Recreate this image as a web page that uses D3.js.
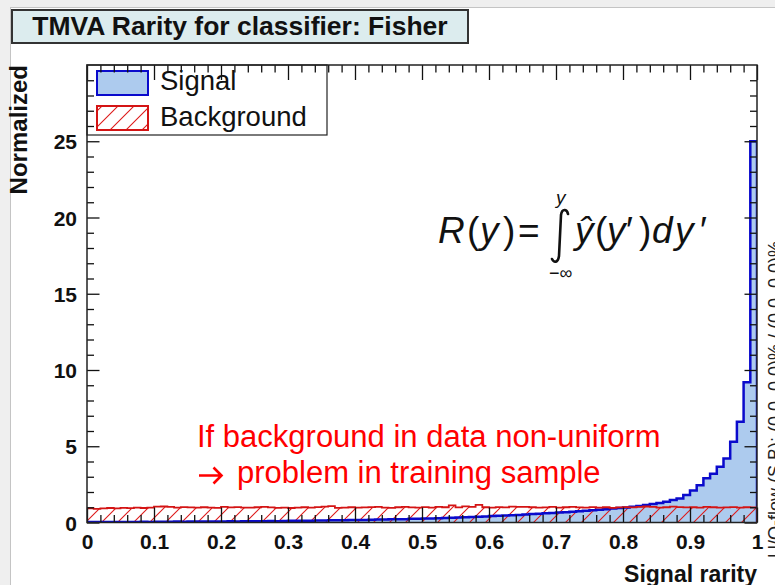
<!DOCTYPE html>
<html>
<head>
<meta charset="utf-8">
<script src="https://cdn.jsdelivr.net/npm/d3@7"></script>
<style>
  html, body { margin: 0; padding: 0; background: #efefef; }
  svg { display: block; }
  text { font-family: "Liberation Sans", Arial, Helvetica, sans-serif; }
</style>
</head>
<body>
<svg id="chart" width="775" height="585"></svg>
<script>
// Rarity distribution of the Fisher classifier output, 100 bins on [0, 1]
const binCount = 100;

const signalValues = [
  0.03, 0.03, 0.03, 0.04, 0.03, 0.04, 0.04, 0.04, 0.05, 0.04,
  0.05, 0.05, 0.05, 0.06, 0.05, 0.06, 0.06, 0.07, 0.06, 0.07,
  0.07, 0.08, 0.07, 0.08, 0.08, 0.09, 0.09, 0.10, 0.09, 0.10,
  0.11, 0.11, 0.12, 0.12, 0.13, 0.13, 0.14, 0.15, 0.15, 0.16,
  0.17, 0.17, 0.18, 0.19, 0.20, 0.21, 0.21, 0.22, 0.24, 0.25,
  0.26, 0.27, 0.28, 0.30, 0.31, 0.33, 0.35, 0.36, 0.38, 0.40,
  0.42, 0.44, 0.46, 0.48, 0.50, 0.52, 0.55, 0.57, 0.60, 0.62,
  0.65, 0.68, 0.71, 0.74, 0.77, 0.80, 0.84, 0.87, 0.91, 0.95,
  0.99, 1.03, 1.08, 1.14, 1.22, 1.28, 1.36, 1.47, 1.58, 1.80,
  2.10, 2.45, 2.90, 3.20, 3.65, 4.20, 5.30, 6.60, 9.20, 25.0
];

const backgroundValues = [
  0.92, 0.90, 0.93, 0.95, 0.92, 0.96, 0.94, 0.97, 0.95, 0.98,
  1.04, 1.05, 1.03, 0.97, 1.01, 0.99, 0.97, 1.00, 0.98, 0.96,
  1.02, 0.99, 1.01, 0.98, 0.97, 1.00, 1.03, 0.99, 0.96, 0.98,
  0.95, 0.97, 1.00, 0.98, 1.01, 1.04, 1.08, 0.96, 0.98, 1.00,
  0.97, 0.99, 1.01, 1.02, 0.98, 0.96, 1.00, 1.02, 0.99, 0.97,
  1.01, 0.98, 1.03, 1.00, 1.12, 0.99, 1.06, 1.02, 1.15, 1.00,
  0.97, 1.01, 0.99, 1.04, 1.03, 1.03, 1.00, 0.97, 0.99, 1.02,
  0.98, 1.00, 1.03, 0.99, 0.97, 1.01, 0.98, 1.00, 0.96, 0.99,
  1.01, 0.99, 1.03, 1.05, 1.02, 0.98, 1.00, 1.04, 1.01, 0.99,
  1.00, 0.98, 1.02, 1.00, 0.97, 0.99, 1.01, 0.98, 1.00, 0.99
];

const xMajorTicks = [0, 0.1, 0.2, 0.3, 0.4, 0.5, 0.6, 0.7, 0.8, 0.9, 1];
const xTickLabels = ["0", "0.1", "0.2", "0.3", "0.4", "0.5", "0.6", "0.7", "0.8", "0.9", "1"];
const yMajorTicks = [0, 5, 10, 15, 20, 25];
const yTickLabels = ["0", "5", "10", "15", "20", "25"];

const seriesNames = ["Signal", "Background"];
const titleText = "TMVA Rarity for classifier: Fisher";
const xTitle = "Signal rarity";
const yTitle = "Normalized";
const flowText = "U/O-flow (S,B): (0.0, 0.0)% / (0.0, 0.0)%";
const noteLines = ["If background in data non-uniform", "problem in training sample"];

// Colours
const signalFill = "#adcbee";
const signalLine = "#0a0acc";
const bkgLine = "#d41414";
const noteRed = "#ff0000";

// Frame geometry
const frame = { left: 87, right: 757, top: 65, bottom: 522.5 };
const yMax = 30;

const svg = d3.select("#chart");

const x = d3.scaleLinear().domain([0, 1]).range([frame.left, frame.right]);
const y = d3.scaleLinear().domain([0, yMax]).range([frame.bottom, frame.top]);

// hatch pattern for the background histogram
const defs = svg.append("defs");
const hatch = defs.append("pattern")
  .attr("id", "hatch")
  .attr("patternUnits", "userSpaceOnUse")
  .attr("width", 16).attr("height", 16);
hatch.append("path")
  .attr("d", "M0,16 L16,0 M-4,4 L4,-4 M12,20 L20,12")
  .attr("stroke", "#dd1a1a").attr("stroke-width", 1.1).attr("fill", "none");

defs.append("clipPath").attr("id", "frameClip")
  .append("rect")
  .attr("x", frame.left).attr("y", frame.top)
  .attr("width", frame.right - frame.left).attr("height", frame.bottom - frame.top);

// canvas pad
svg.append("rect").attr("x", 0).attr("y", 0).attr("width", 775).attr("height", 585).attr("fill", "#efefef");
svg.append("rect").attr("x", 10.5).attr("y", 7.5).attr("width", 775).attr("height", 590)
  .attr("fill", "#ffffff").attr("stroke", "#c4c4c4").attr("stroke-width", 1);

// title box
svg.append("rect").attr("x", 12).attr("y", 10).attr("width", 456).attr("height", 33)
  .attr("fill", "#dcecee").attr("stroke", "#333").attr("stroke-width", 2);
svg.append("text").attr("x", 240).attr("y", 35).attr("text-anchor", "middle")
  .attr("font-size", 26.5).attr("font-weight", "bold").attr("fill", "#111")
  .text(titleText);

// histogram step outlines
function stepPoints(values) {
  const pts = [[0, 0]];
  values.forEach((v, i) => pts.push([i / binCount, v]));
  pts.push([1, values[values.length - 1]]);
  pts.push([1, 0]);
  return pts;
}

const area = d3.area()
  .x(d => x(d[0])).y0(y(0)).y1(d => y(d[1]))
  .curve(d3.curveStepAfter);
const line = d3.line()
  .x(d => x(d[0])).y(d => y(d[1]))
  .curve(d3.curveStepAfter);

const plot = svg.append("g").attr("clip-path", "url(#frameClip)");

const sigPts = stepPoints(signalValues);
const bkgPts = stepPoints(backgroundValues);

plot.append("path").attr("d", area(sigPts)).attr("fill", signalFill);
plot.append("path").attr("d", area(bkgPts)).attr("fill", "url(#hatch)");
plot.append("path").attr("d", line(sigPts)).attr("fill", "none")
  .attr("stroke", signalLine).attr("stroke-width", 2.5).attr("stroke-linejoin", "miter");
plot.append("path").attr("d", line(bkgPts)).attr("fill", "none")
  .attr("stroke", bkgLine).attr("stroke-width", 1.8);

// legend
const legend = svg.append("g");
legend.append("rect").attr("x", frame.left).attr("y", frame.top).attr("width", 240).attr("height", 70)
  .attr("fill", "#fff").attr("stroke", "#222").attr("stroke-width", 1.2);
legend.append("rect").attr("x", 97).attr("y", 71).attr("width", 51).attr("height", 24)
  .attr("fill", signalFill).attr("stroke", signalLine).attr("stroke-width", 2);
legend.append("rect").attr("x", 97).attr("y", 106).attr("width", 51).attr("height", 24)
  .attr("fill", "#fff");
legend.append("rect").attr("x", 97).attr("y", 106).attr("width", 51).attr("height", 24)
  .attr("fill", "url(#hatch)").attr("stroke", bkgLine).attr("stroke-width", 2);
legend.selectAll("text.leg").data(seriesNames).join("text")
  .attr("class", "leg")
  .attr("x", 160).attr("y", (d, i) => 90 + i * 36)
  .attr("font-size", 27.5).attr("fill", "#111")
  .text(d => d);

// axes: major and minor ticks on all four sides
const xMinor = d3.range(0, 1.0001, 0.02).filter(v => Math.abs(v * 10 - Math.round(v * 10)) > 1e-6);
const yMinor = d3.range(0, yMax + 0.001, 1).filter(v => v % 5 !== 0);

function styleAxis(g) {
  g.select(".domain").remove();
  g.selectAll(".tick line").attr("stroke", "#111").attr("stroke-width", 1.3);
}

svg.append("g").attr("transform", `translate(0,${frame.bottom})`)
  .call(d3.axisBottom(x).tickValues(xMajorTicks).tickSize(-15)
    .tickFormat((d, i) => xTickLabels[i]))
  .call(styleAxis)
  .call(g => g.selectAll("text").attr("font-size", 21).attr("font-weight", "bold")
    .attr("fill", "#111").attr("font-family", "Liberation Sans, Arial, sans-serif")
    .attr("y", 26.5).attr("dy", 0));
svg.append("g").attr("transform", `translate(0,${frame.bottom})`)
  .call(d3.axisBottom(x).tickValues(xMinor).tickSize(-7.5).tickFormat(""))
  .call(styleAxis);
svg.append("g").attr("transform", `translate(0,${frame.top})`)
  .call(d3.axisTop(x).tickValues(xMajorTicks).tickSize(-15).tickFormat(""))
  .call(styleAxis);
svg.append("g").attr("transform", `translate(0,${frame.top})`)
  .call(d3.axisTop(x).tickValues(xMinor).tickSize(-7.5).tickFormat(""))
  .call(styleAxis);

svg.append("g").attr("transform", `translate(${frame.left},0)`)
  .call(d3.axisLeft(y).tickValues(yMajorTicks).tickSize(-12.5)
    .tickFormat((d, i) => yTickLabels[i]))
  .call(styleAxis)
  .call(g => g.selectAll("text").attr("font-size", 21).attr("font-weight", "bold")
    .attr("fill", "#111").attr("font-family", "Liberation Sans, Arial, sans-serif")
    .attr("x", -10).attr("dy", "0.36em"));
svg.append("g").attr("transform", `translate(${frame.left},0)`)
  .call(d3.axisLeft(y).tickValues(yMinor).tickSize(-7).tickFormat(""))
  .call(styleAxis);
svg.append("g").attr("transform", `translate(${frame.right},0)`)
  .call(d3.axisRight(y).tickValues(yMajorTicks).tickSize(-12.5).tickFormat(""))
  .call(styleAxis);
svg.append("g").attr("transform", `translate(${frame.right},0)`)
  .call(d3.axisRight(y).tickValues(yMinor).tickSize(-7).tickFormat(""))
  .call(styleAxis);

// frame
svg.append("rect").attr("x", frame.left).attr("y", frame.top)
  .attr("width", frame.right - frame.left).attr("height", frame.bottom - frame.top)
  .attr("fill", "none").attr("stroke", "#222").attr("stroke-width", 1.5);

// axis titles
svg.append("text").attr("x", frame.right).attr("y", 581.5).attr("text-anchor", "end")
  .attr("font-size", 23).attr("font-weight", "bold").attr("fill", "#111").text(xTitle);
svg.append("text").attr("transform", "translate(27,65) rotate(-90)").attr("text-anchor", "end")
  .attr("font-size", 24).attr("font-weight", "bold").attr("fill", "#111").text(yTitle);

// under/overflow note on the right edge
svg.append("text").attr("transform", "translate(781,558) rotate(-90)")
  .attr("font-size", 18).attr("fill", "#222").text(flowText);

// rarity definition
const formula = svg.append("g").attr("fill", "#111");
const fMain = formula.append("text").attr("y", 243).attr("font-size", 37);
[
  { t: "R", x: 438, it: true },
  { t: "(", x: 467, it: false },
  { t: "y", x: 480, it: true },
  { t: ")", x: 503, it: false },
  { t: "=", x: 518, it: false },
  { t: "\u0177", x: 575, it: true },
  { t: "(", x: 595, it: false },
  { t: "y", x: 607, it: true },
  { t: "\u2032", x: 626, it: false },
  { t: ")", x: 639, it: false },
  { t: "d", x: 652, it: true },
  { t: "y", x: 675, it: true },
  { t: "\u2032", x: 700, it: false }
].forEach(p => {
  fMain.append("tspan").attr("x", p.x).attr("font-style", p.it ? "italic" : "normal").text(p.t);
});
formula.append("path")
  .attr("d", "M568,214 C567,209 562,208 561,215 L559,256 C558,263 554,263 552,259")
  .attr("fill", "none").attr("stroke", "#111").attr("stroke-width", 2.6).attr("stroke-linecap", "round");
formula.append("text").attr("x", 556).attr("y", 204).attr("font-size", 19)
  .attr("font-style", "italic").text("y");
formula.append("text").attr("x", 549).attr("y", 279).attr("font-size", 18).text("\u2212\u221e");

// note in red
svg.append("text").attr("x", 197).attr("y", 447).attr("font-size", 31).attr("fill", noteRed)
  .text(noteLines[0]);
svg.append("path")
  .attr("d", "M199,475.5 H221.5 M213.5,467.5 L221.5,475.5 L213.5,483.5")
  .attr("fill", "none").attr("stroke", noteRed).attr("stroke-width", 2.6)
  .attr("stroke-linejoin", "miter");
svg.append("text").attr("x", 237).attr("y", 483).attr("font-size", 31).attr("fill", noteRed)
  .text(noteLines[1]);
</script>
</body>
</html>
